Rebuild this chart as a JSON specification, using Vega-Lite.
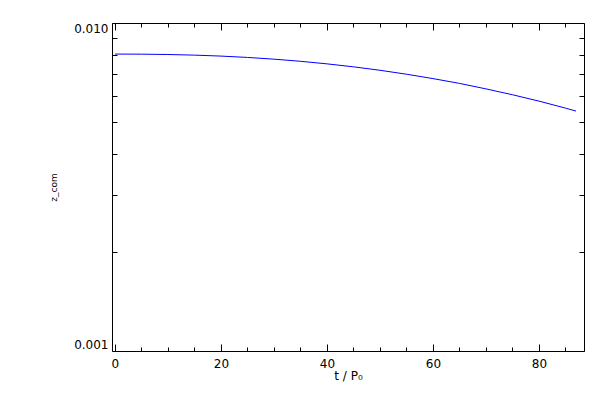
{
  "$schema": "https://vega.github.io/schema/vega-lite/v6.json",
  "width": 472,
  "height": 328,
  "autosize": "none",
  "padding": {"left": 112, "top": 23, "right": 16, "bottom": 49},
  "background": "white",
  "config": {
    "view": {"stroke": null},
    "axis": {
      "domainColor": "black", "tickColor": "black", "labelColor": "black", "titleColor": "black",
      "labelFont": "DejaVu Sans", "titleFont": "DejaVu Sans", "labelFontSize": 12,
      "grid": false, "domainWidth": 1, "tickWidth": 1, "titleFontWeight": "normal", "labelOverlap": false
    }
  },
  "data": {"values": [
    {"t": 0, "z": 0.00804}, {"t": 5, "z": 0.008035}, {"t": 10, "z": 0.008016}, {"t": 15, "z": 0.007981},
    {"t": 20, "z": 0.007927}, {"t": 25, "z": 0.007853}, {"t": 30, "z": 0.007758}, {"t": 35, "z": 0.007643},
    {"t": 40, "z": 0.007507}, {"t": 45, "z": 0.007352}, {"t": 50, "z": 0.007176}, {"t": 55, "z": 0.006981},
    {"t": 60, "z": 0.006768}, {"t": 65, "z": 0.006545}, {"t": 70, "z": 0.006297}, {"t": 75, "z": 0.006043},
    {"t": 80, "z": 0.005779}, {"t": 85, "z": 0.005502}, {"t": 87, "z": 0.005389}
  ]},
  "layer": [
    {
      "mark": {"type": "line", "color": "#0000ff", "strokeWidth": 1},
      "encoding": {
        "x": {
          "field": "t", "type": "quantitative",
          "scale": {"domain": [-0.55, 88.5], "nice": false, "zero": false},
          "axis": {
            "orient": "bottom",
            "values": [0, 5, 10, 15, 20, 25, 30, 35, 40, 45, 50, 55, 60, 65, 70, 75, 80, 85],
            "labelExpr": "datum.value % 20 === 0 ? datum.label : ''",
            "tickSize": {"condition": {"test": "datum.value % 20 === 0", "value": -7}, "value": -4},
            "labelPadding": 14, "labelFlush": false,
            "title": "t / P₀", "titleFontSize": 12, "titlePadding": -2
          }
        },
        "y": {
          "field": "z", "type": "quantitative",
          "scale": {"type": "log", "domain": [0.001, 0.01], "nice": false},
          "axis": {
            "orient": "left",
            "values": [0.001, 0.002, 0.003, 0.004, 0.005, 0.006, 0.007, 0.008, 0.009, 0.01],
            "format": ".3f",
            "labelExpr": "datum.value < 0.0015 || datum.value > 0.0095 ? datum.label : ''",
            "tickSize": -5, "labelPadding": 9, "labelFlush": true,
            "title": "z_com", "titleFontSize": 9, "titlePadding": 15
          }
        }
      }
    },
    {
      "mark": {"type": "point", "opacity": 0},
      "encoding": {
        "x": {
          "field": "t", "type": "quantitative",
          "axis": {
            "orient": "top",
            "values": [0, 5, 10, 15, 20, 25, 30, 35, 40, 45, 50, 55, 60, 65, 70, 75, 80, 85],
            "labels": false,
            "tickSize": {"condition": {"test": "datum.value % 20 === 0", "value": -7}, "value": -4},
            "title": null
          }
        },
        "y": {
          "field": "z", "type": "quantitative",
          "axis": {
            "orient": "right",
            "values": [0.001, 0.002, 0.003, 0.004, 0.005, 0.006, 0.007, 0.008, 0.009, 0.01],
            "labels": false, "tickSize": -5, "title": null
          }
        }
      }
    }
  ],
  "resolve": {"axis": {"x": "independent", "y": "independent"}}
}
